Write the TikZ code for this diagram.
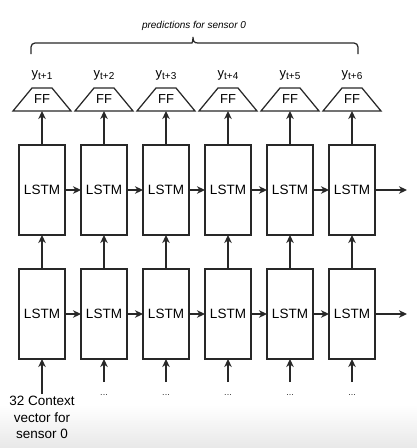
\documentclass[tikz,border=0pt]{standalone}
\usepackage{fontspec}
\setmainfont{Liberation Sans}
\usetikzlibrary{arrows.meta,calc}
\definecolor{linec}{RGB}{40,40,40}
\definecolor{shadec}{RGB}{232,232,232}
\newcommand{\ysub}[1]{y{\fontsize{10}{10}\selectfont\raisebox{-2.6pt}{#1}}}
\begin{document}
\begin{tikzpicture}[x=1pt,y=-1pt,line width=1.25pt,
  lstm/.style={draw=linec,minimum width=46pt,minimum height=90pt,inner sep=0pt,outer sep=0pt,font=\fontsize{13.5}{15}\selectfont},
  ffnode/.style={minimum width=58pt,minimum height=23pt,inner sep=0pt,outer sep=0pt,font=\fontsize{13}{14}\selectfont},
  ylab/.style={font=\fontsize{13}{14}\selectfont,inner sep=1pt},
  dotlab/.style={font=\fontsize{9}{10}\selectfont,inner sep=1pt,text=linec},
  ctxlab/.style={font=\fontsize{13.5}{16.5}\selectfont,align=center,inner sep=1.5pt},
  bracelab/.style={font=\itshape\fontsize{10}{11}\selectfont,inner sep=1pt},
  arr/.style={draw=linec,-{Stealth[length=8pt,width=7.5pt,inset=2.5pt]}},
  trap/.style={draw=linec,line join=miter}]
\useasboundingbox (0,0) rectangle (417,448);
\shade[top color=white,bottom color=shadec] (0,405) rectangle (417,448);
% brace
\draw[draw=linec] (31,54) [rounded corners=4pt] -- (31,43) -- (188,43) [sharp corners]
  .. controls (192,43) and (193,41) .. (193,37)
  .. controls (193,41) and (194,43) .. (198,43) [rounded corners=4pt] -- (358,43) -- (358,54);
\node[bracelab] (btxt) at (194,26) {predictions for sensor 0};
\foreach \i in {1,...,6} {
  \pgfmathsetmacro{\xx}{42+62*(\i-1)}
  \node[lstm] (u\i) at (\xx,190) {LSTM};
  \node[lstm] (l\i) at (\xx,314) {LSTM};
  \node[ffnode] (f\i) at (\xx,99.5) {FF};
  \draw[trap] (f\i.south west) -- (f\i.south east) -- ([xshift=-19pt]f\i.north east) -- ([xshift=19pt]f\i.north west) -- cycle;
  \node[ylab] (y\i) at (\xx,75) {\ysub{t+\i}};
  \draw[arr] (u\i.north) -- (f\i.south);
  \draw[arr] (l\i.north) -- (u\i.south);
}
\foreach \i/\j in {1/2,2/3,3/4,4/5,5/6} {
  \draw[arr] (u\i.east) -- (u\j.west);
  \draw[arr] (l\i.east) -- (l\j.west);
}
\coordinate (uend) at (407,190);
\coordinate (lend) at (407,314);
\draw[arr] (u6.east) -- (uend);
\draw[arr] (l6.east) -- (lend);
% inputs
\node[ctxlab,anchor=north] (ctx) at (42,394) {32 Context\\vector for\\sensor 0};
\draw[arr] (ctx.north) -- (l1.south);
\foreach \i in {2,...,6} {
  \pgfmathsetmacro{\xx}{42+62*(\i-1)}
  \node[dotlab] (d\i) at (\xx,395) {...};
  \coordinate (c\i) at (\xx,382);
  \draw[arr] (c\i) -- (l\i.south);
}
\end{tikzpicture}
\end{document}
